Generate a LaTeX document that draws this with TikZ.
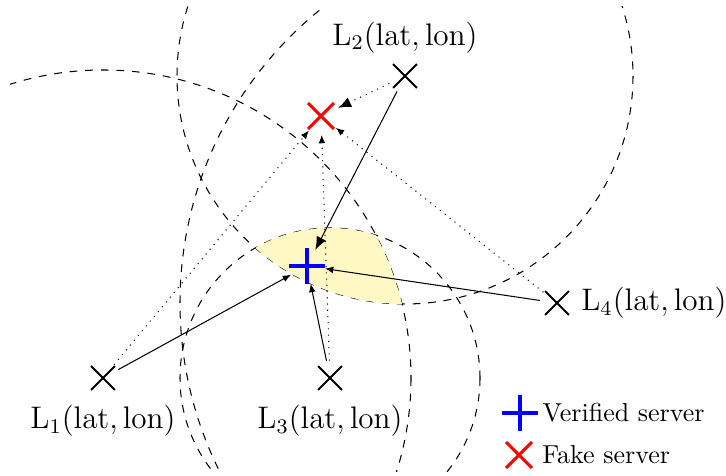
\documentclass[tikz,border=0pt]{standalone}
\usetikzlibrary{arrows.meta, positioning, backgrounds}

\definecolor{lensyellow}{RGB}{255,247,196}

\begin{document}
\begin{tikzpicture}[
  x=0.385pt, y=-0.385pt,
  font=\large,
  lm/.style={circle, inner sep=0pt, minimum size=13pt,
    path picture={\draw[line width=0.8pt] (path picture bounding box.south west) -- (path picture bounding box.north east)
      (path picture bounding box.north west) -- (path picture bounding box.south east);}},
  fake/.style={circle, inner sep=0pt, minimum size=14.2pt,
    path picture={\draw[red, line width=1.2pt] (path picture bounding box.south west) -- (path picture bounding box.north east)
      (path picture bounding box.north west) -- (path picture bounding box.south east);}},
  ver/.style={circle, inner sep=0pt, minimum size=13.6pt},
  verline/.style={blue, line width=1.2pt},
  lab/.style={inner sep=0.5pt},
  legtext/.style={font=\normalsize, inner sep=1pt},
  ring/.style={dashed, thin},
  real/.style={-{Latex[length=3.2pt, width=2.6pt]}, thin},
  spoof/.style={-{Latex[length=3.2pt, width=2.6pt]}, dotted, thin},
  big/.style={-{Latex[length=5pt, width=4pt]}},
]
\useasboundingbox (0,0) rectangle (726,476);

% landmarks and servers
\node[lm] (l1) at (103,378) {};
\node[lm] (l2) at (405,76) {};
\node[lm] (l3) at (330,378) {};
\node[lm] (l4) at (557,303) {};
\node[fake] (f) at (321,116) {};
\node[ver] (v) at (307,266) {};
\draw[verline] (v.north) -- (v.south) (v.west) -- (v.east);

\node[lab, below=3pt of l1] (t1) {$\mathrm{L}_1(\mathrm{lat},\mathrm{lon})$};
\node[lab, above=1.5pt of l2] (t2) {$\mathrm{L}_2(\mathrm{lat},\mathrm{lon})$};
\node[lab, below=3pt of l3] (t3) {$\mathrm{L}_3(\mathrm{lat},\mathrm{lon})$};
\node[lab, right=2pt of l4] (t4) {$\mathrm{L}_4(\mathrm{lat},\mathrm{lon})$};

% distance circles and feasible region
\begin{scope}[on background layer]
  \clip (10,7) rectangle (726,471);
  \draw[ring] (l1.center) circle[radius=308];
  \draw[ring] (l2.center) circle[radius=228];
  \draw[ring] (l3.center) circle[radius=150];
  \draw[ring] (l4.center) circle[radius=377];
  \begin{scope}
    \clip (l1.center) circle[radius=308];
    \clip (l2.center) circle[radius=228];
    \fill[lensyellow] (l3.center) circle[radius=150];
  \end{scope}
\end{scope}

% measured delays
\draw[real] (l1) -- (v);
\draw[real, big] (l2) -- (v);
\draw[real] (l3) -- (v);
\draw[real] (l4) -- (v);
\draw[spoof] (l1) -- (f);
\draw[spoof, big] (l2) -- (f);
\draw[spoof] (l3) -- (f);
\draw[spoof] (l4) -- (f);

% legend
\node[ver] (lv) at (520,413) {};
\draw[verline] (lv.north) -- (lv.south) (lv.west) -- (lv.east);
\node[legtext, right=0.5pt of lv] (lvt) {Verified server};
\node[fake] (lf) at (519,455) {};
\node[legtext, right=0.5pt of lf] (lft) {Fake server};
\end{tikzpicture}
\end{document}
